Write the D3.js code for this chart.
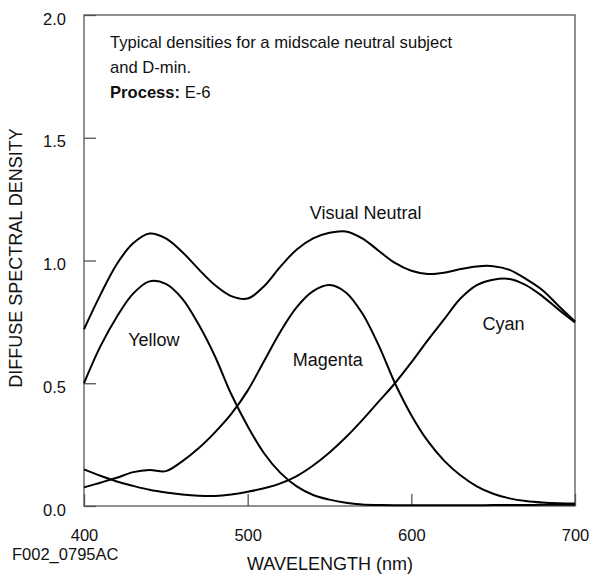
<!DOCTYPE html>
<html>
<head>
<meta charset="utf-8">
<script src="https://cdn.jsdelivr.net/npm/d3@7"></script>
<style>
  body { margin: 0; background: #fff; }
  svg text { font-family: "Liberation Sans", Arial, sans-serif; fill: #111; }
</style>
</head>
<body>
<div id="graph"></div>
<script>
'use strict';

// wavelengths (nm), shared by every curve
const wavelengths = [400, 410, 420, 430, 440, 450, 460, 470, 480, 490, 500,
  510, 520, 530, 540, 550, 560, 570, 580, 590, 600,
  610, 620, 630, 640, 650, 660, 670, 680, 690, 700];

// diffuse spectral density
const neutral = [0.72, 0.86, 0.985, 1.07, 1.11, 1.09, 1.035, 0.965, 0.90, 0.855, 0.845,
  0.895, 0.975, 1.045, 1.09, 1.113, 1.118, 1.09, 1.04, 0.99, 0.958,
  0.945, 0.95, 0.965, 0.976, 0.977, 0.962, 0.925, 0.88, 0.815, 0.752];
const yellow = [0.50, 0.65, 0.77, 0.865, 0.915, 0.905, 0.845, 0.74, 0.61, 0.455, 0.325,
  0.215, 0.135, 0.08, 0.045, 0.026, 0.013, 0.006, 0.004, 0.003, 0.003,
  0.003, 0.003, 0.003, 0.003, 0.004, 0.004, 0.004, 0.005, 0.005, 0.005];
const magenta = [0.076, 0.095, 0.115, 0.138, 0.147, 0.142, 0.182, 0.235, 0.30, 0.375, 0.47,
  0.59, 0.71, 0.81, 0.875, 0.90, 0.87, 0.785, 0.655, 0.50, 0.37,
  0.265, 0.185, 0.125, 0.08, 0.05, 0.031, 0.02, 0.014, 0.011, 0.01];
const cyan = [0.149, 0.123, 0.10, 0.082, 0.066, 0.055, 0.047, 0.042, 0.041, 0.047, 0.058,
  0.072, 0.092, 0.122, 0.165, 0.218, 0.28, 0.35, 0.425, 0.50, 0.585,
  0.675, 0.76, 0.845, 0.90, 0.922, 0.925, 0.90, 0.855, 0.80, 0.748];

const xTicks = [400, 500, 600, 700];
const yTicks = [0, 0.5, 1.0, 1.5, 2.0];

// curve labels: [text, wavelength, density] at the start of the baseline
const curveLabels = [
  ["Visual Neutral", 538, 1.168],
  ["Yellow", 427, 0.65],
  ["Magenta", 527.5, 0.572],
  ["Cyan", 643.5, 0.716]
];

const noteLines = ["Typical densities for a midscale neutral subject", "and D-min."];

(function() {
  const svg = d3.select('#graph').append('svg')
    .attr('width', 592)
    .attr('height', 575);

  const left = 84, right = 575, top = 15, bottom = 506;

  const xScale = d3.scaleLinear().domain([400, 700]).range([left, right]);
  const yScale = d3.scaleLinear().domain([0, 2]).range([bottom, top]);

  // y axis, ticks pointing inward
  const yAxis = d3.axisLeft(yScale)
    .tickValues(yTicks)
    .tickSizeInner(-12)
    .tickSizeOuter(0)
    .tickPadding(18)
    .tickFormat(d3.format('.1f'));
  const gy = svg.append('g')
    .attr('transform', `translate(${left},0)`)
    .call(yAxis);
  gy.select('.domain').remove();
  gy.selectAll('line').attr('stroke', '#555').attr('stroke-width', 1.3);
  gy.selectAll('text')
    .attr('dy', '0.55em')
    .style('font-size', '16.5px');

  // x axis
  const xAxis = d3.axisBottom(xScale)
    .tickValues(xTicks)
    .tickSizeInner(-12)
    .tickSizeOuter(0)
    .tickPadding(23)
    .tickFormat(d3.format('d'));
  const gx = svg.append('g')
    .attr('transform', `translate(0,${bottom})`)
    .call(xAxis);
  gx.select('.domain').remove();
  gx.selectAll('line').attr('stroke', '#555').attr('stroke-width', 1.3);
  gx.selectAll('text').style('font-size', '16.5px');

  // frame
  svg.append('rect')
    .attr('x', left)
    .attr('y', top)
    .attr('width', right - left)
    .attr('height', bottom - top)
    .attr('fill', 'none')
    .attr('stroke', '#555')
    .attr('stroke-width', 1.3);

  // curves
  const line = d3.line()
    .x((d, i) => xScale(wavelengths[i]))
    .y(d => yScale(d))
    .curve(d3.curveCatmullRom.alpha(0.5));

  [neutral, yellow, magenta, cyan].forEach(series => {
    svg.append('path')
      .datum(series)
      .attr('d', line)
      .attr('fill', 'none')
      .attr('stroke', '#000')
      .attr('stroke-width', 2);
  });

  // curve labels
  svg.selectAll('.curveLabel')
    .data(curveLabels)
    .enter()
    .append('text')
      .attr('class', 'curveLabel')
      .attr('x', d => xScale(d[1]))
      .attr('y', d => yScale(d[2]))
      .style('font-size', '18px')
      .text(d => d[0]);

  // note in the top left
  noteLines.forEach((t, i) => {
    svg.append('text')
      .attr('x', 110)
      .attr('y', 47.5 + 25 * i)
      .style('font-size', '16.6px')
      .text(t);
  });
  const proc = svg.append('text')
    .attr('x', 110)
    .attr('y', 97.5)
    .style('font-size', '16.6px');
  proc.append('tspan').style('font-weight', 'bold').text('Process:');
  proc.append('tspan').text(' E-6');

  // axis titles
  svg.append('text')
    .attr('x', 330)
    .attr('y', 570)
    .attr('text-anchor', 'middle')
    .style('font-size', '18px')
    .text('WAVELENGTH (nm)');

  svg.append('text')
    .attr('transform', 'translate(22,258)rotate(-90)')
    .attr('text-anchor', 'middle')
    .style('font-size', '18px')
    .text('DIFFUSE SPECTRAL DENSITY');

  svg.append('text')
    .attr('x', 12)
    .attr('y', 560)
    .style('font-size', '16.5px')
    .text('F002_0795AC');
})();
</script>
</body>
</html>
